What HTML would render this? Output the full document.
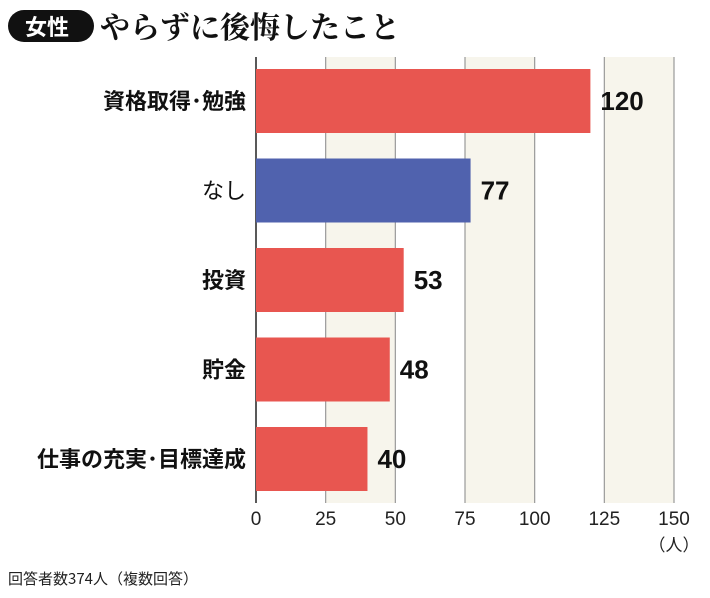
<!DOCTYPE html>
<html><head><meta charset="utf-8"><style>
body{margin:0;background:#fff;width:710px;height:598px;overflow:hidden;font-family:"Liberation Sans","Noto Sans CJK JP",sans-serif}
svg{display:block}
</style></head><body>
<svg width="710" height="598">
<g>
<rect x="8" y="10" width="86" height="32" rx="16" fill="#111"/>
<text x="47" y="35" font-size="22" font-weight="bold" fill="#fff" text-anchor="middle" font-family="'Noto Sans CJK JP',sans-serif">女性</text>
<text x="100" y="38" font-size="30" font-weight="bold" fill="#111" font-family="'Noto Serif CJK SC','Noto Sans CJK JP',serif">やらずに後悔したこと</text>
</g>
<g id="plot"></g>
<text x="8" y="584" font-size="15" fill="#222" font-family="'Noto Sans CJK JP',sans-serif">回答者数374人（複数回答）</text>
</svg>
<script>
const categories=["資格取得･勉強","なし","投資","貯金","仕事の充実･目標達成"];
const values=[120,77,53,48,40];
const highlight=[false,true,false,false,false];
const ticks=[0,25,50,75,100,125,150];
const NS="http://www.w3.org/2000/svg";
const plotG=document.getElementById("plot");
const x0=256,x1=674,xmax=150,plotTop=57,plotBot=503,rowTop=69,pitch=89.5,bh=64;
const X=v=>x0+(v/xmax)*(x1-x0);
function el(t,a){const e=document.createElementNS(NS,t);for(const k in a)e.setAttribute(k,a[k]);plotG.appendChild(e);return e;}
for(let i=1;i<ticks.length-1;i+=2){
 const b=el("rect",{x:X(ticks[i]),y:plotTop,width:X(ticks[i+1])-X(ticks[i]),height:plotBot-plotTop,fill:"#f7f5ec"});
 
 
}
ticks.forEach((t,i)=>{
 const l=el("line",{x1:X(t),x2:X(t),y1:plotTop,y2:plotBot,stroke:i==0?"#222":"#999","stroke-width":i==0?1.5:1.2});
 
 
 const tx=el("text",{x:X(t),y:525,"font-size":19,"text-anchor":"middle",fill:"#222"});
 tx.textContent=t;
 
 
});
const u=el("text",{x:X(150),y:551,"font-size":17,"text-anchor":"middle",fill:"#222","font-family":"'Noto Sans CJK JP',sans-serif"});
u.textContent="（人）";


categories.forEach((c,i)=>{
 const y=rowTop+i*pitch;
 const r=el("rect",{x:x0,y:y,width:X(values[i])-x0,height:bh,fill:highlight[i]?"#5062ae":"#e85650"});
 
 
 const v=el("text",{x:X(values[i])+10,y:y+bh/2+9,"font-size":26,"font-weight":"bold",fill:"#111"});
 v.textContent=values[i];
 
 
 const lb=el("text",{x:246,y:y+bh/2+8,"font-size":22,"font-weight":highlight[i]?"normal":"bold","text-anchor":"end",fill:"#111","font-family":"'Noto Sans CJK JP',sans-serif"});
 lb.textContent=c;
 
 
});
</script>
</body></html>
